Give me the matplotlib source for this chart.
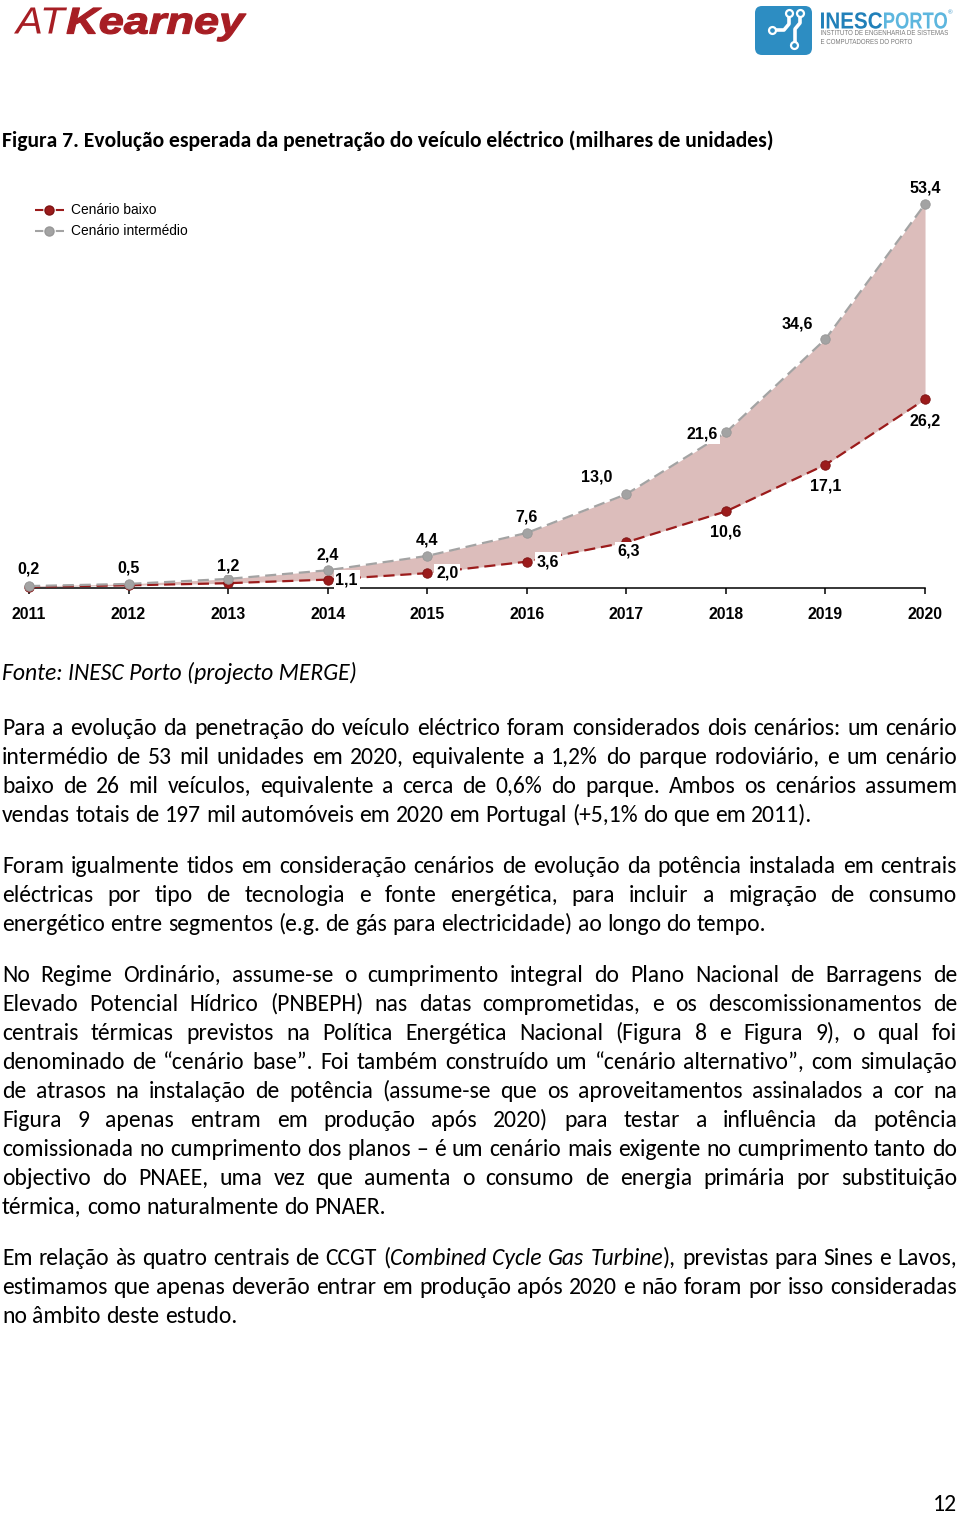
import matplotlib
matplotlib.use("Agg")
import matplotlib.pyplot as plt
from matplotlib.font_manager import FontProperties, fontManager
from matplotlib.lines import Line2D
from matplotlib.patches import FancyBboxPatch, PathPatch
from matplotlib.textpath import TextPath
from matplotlib.transforms import Affine2D

# ---------------- data ----------------
years = [2011, 2012, 2013, 2014, 2015, 2016, 2017, 2018, 2019, 2020]
cenario_baixo = [0.1, 0.3, 0.6, 1.1, 2.0, 3.6, 6.3, 10.6, 17.1, 26.2]
cenario_intermedio = [0.2, 0.5, 1.2, 2.4, 4.4, 7.6, 13.0, 21.6, 34.6, 53.4]
labels_baixo = [None, None, None, "1,1", "2,0", "3,6", "6,3", "10,6", "17,1", "26,2"]
labels_intermedio = ["0,2", "0,5", "1,2", "2,4", "4,4", "7,6", "13,0", "21,6", "34,6", "53,4"]
series_names = ["Cenário baixo", "Cenário intermédio"]

title_text = "Figura 7. Evolução esperada da penetração do veículo eléctrico (milhares de unidades)"
source_text = "Fonte: INESC Porto (projecto MERGE)"
paragraphs = [
    ["Para a evolução da penetração do veículo eléctrico foram considerados dois cenários: um cenário",
     "intermédio de 53 mil unidades em 2020, equivalente a 1,2% do parque rodoviário, e um cenário",
     "baixo de 26 mil veículos, equivalente a cerca de 0,6% do parque. Ambos os cenários assumem",
     "vendas totais de 197 mil automóveis em 2020 em Portugal (+5,1% do que em 2011)."],
    ["Foram igualmente tidos em consideração cenários de evolução da potência instalada em centrais",
     "eléctricas por tipo de tecnologia e fonte energética, para incluir a migração de consumo",
     "energético entre segmentos (e.g. de gás para electricidade) ao longo do tempo."],
    ["No Regime Ordinário, assume-se o cumprimento integral do Plano Nacional de Barragens de",
     "Elevado Potencial Hídrico (PNBEPH) nas datas comprometidas, e os descomissionamentos de",
     "centrais térmicas previstos na Política Energética Nacional (Figura 8 e Figura 9), o qual foi",
     "denominado de “cenário base”. Foi também construído um “cenário alternativo”, com simulação",
     "de atrasos na instalação de potência (assume-se que os aproveitamentos assinalados a cor na",
     "Figura 9 apenas entram em produção após 2020) para testar a influência da potência",
     "comissionada no cumprimento dos planos – é um cenário mais exigente no cumprimento tanto do",
     "objectivo do PNAEE, uma vez que aumenta o consumo de energia primária por substituição",
     "térmica, como naturalmente do PNAER."],
    ["Em relação às quatro centrais de CCGT (*Combined Cycle Gas Turbine*), previstas para Sines e Lavos,",
     "estimamos que apenas deverão entrar em produção após 2020 e não foram por isso consideradas",
     "no âmbito deste estudo."],
]
page_number = "12"

# ---------------- styles ----------------
W, H = 960, 1513
RED = "#9b1b1b"
RED_EDGE = "#7d1212"
GRAY = "#a3a3a3"
GRAY_EDGE = "#979797"
FILL = "#dcbdbb"
TXT = "#000000"

names = {f.name for f in fontManager.ttflist}
BODY_FONT = "Carlito" if "Carlito" in names else "Lato"

plt.rcParams["font.family"] = ["Liberation Sans", "DejaVu Sans"]

fig = plt.figure(figsize=(W / 100, H / 100), dpi=100)
renderer = fig.canvas.get_renderer()


def tw(s, prop):
    return renderer.get_text_width_height_descent(s, prop, ismath=False)[0]


def fit(s, family, target, weight="normal", style="normal"):
    p = FontProperties(family=family, size=10, weight=weight, style=style)
    return 10 * target / tw(s, p)


# ---------------- chart ----------------
px_per_year = 99.56
x0_px, y_base = 29, 587.5
px_per_unit = 7.18
ax_top, ax_bot = 180, 600
ax = fig.add_axes([0, 1 - ax_bot / H, 1, (ax_bot - ax_top) / H])
ax.set_xlim(years[0] - x0_px / px_per_year, years[0] + (W - x0_px) / px_per_year)
ax.set_ylim(-(ax_bot - y_base) / px_per_unit, (y_base - ax_top) / px_per_unit)
ax.patch.set_alpha(0)

ax.fill_between(years, cenario_baixo, cenario_intermedio, color=FILL, lw=0, zorder=1)
ax.plot(years, cenario_baixo, color=RED, lw=1.6, dashes=(5, 2.6), marker="o",
        ms=6.8, mfc=RED, mec=RED_EDGE, mew=0.6, zorder=3, clip_on=False)
ax.plot(years, cenario_intermedio, color=GRAY, lw=1.6, dashes=(5, 2.6), marker="o",
        ms=6.8, mfc=GRAY, mec=GRAY_EDGE, mew=0.6, zorder=4, clip_on=False)

off_int = [(0, -17), (0, -16), (0, -13), (0, -15), (0, -16), (0, -16), (-30, -17), (-24, 2), (-28, -15), (0, -16)]
off_low = [None, None, None, (19, 0), (20, 0), (21, 0), (2, 9), (0, 21), (0, 21), (0, 22)]
lab_kw = dict(textcoords="offset points", ha="center", va="center", fontsize=11.5,
              fontweight="bold", color="#000000", zorder=6,
              bbox=dict(boxstyle="square,pad=0.12", fc="white", ec="none"))
for x, y, l, o in zip(years, cenario_intermedio, labels_intermedio, off_int):
    ax.annotate(l, (x, y), xytext=(o[0] * 0.72, -o[1] * 0.72), **lab_kw)
for x, y, l, o in zip(years, cenario_baixo, labels_baixo, off_low):
    if l is not None:
        ax.annotate(l, (x, y), xytext=(o[0] * 0.72, -o[1] * 0.72), **lab_kw)

for s in ["top", "right", "left"]:
    ax.spines[s].set_visible(False)
ax.spines["bottom"].set_position(("data", 0))
ax.spines["bottom"].set_bounds(years[0], years[-1])
ax.spines["bottom"].set_linewidth(1.1)
ax.spines["bottom"].set_zorder(2)
ax.set_yticks([])
ax.set_xticks(years)
ax.set_xticklabels([str(y) for y in years])
ax.tick_params(axis="x", length=4, width=1.1, direction="out", pad=10, labelsize=11.3)
for t in ax.get_xticklabels():
    t.set_fontweight("bold")

handles = [
    Line2D([], [], color=RED, lw=1.5, dashes=(4, 6), marker="o", ms=6.5, mfc=RED, mec=RED_EDGE),
    Line2D([], [], color=GRAY, lw=1.5, dashes=(4, 6), marker="o", ms=6.5, mfc=GRAY, mec=GRAY_EDGE),
]
fig.legend(handles, series_names, loc="upper left", bbox_to_anchor=(35 / W, 1 - 203.5 / H),
           bbox_transform=fig.transFigure, frameon=False, fontsize=9.9, handlelength=2.1,
           handletextpad=0.5, labelspacing=0.5, borderpad=0, borderaxespad=0, numpoints=1)

# ---------------- page overlay ----------------
tax = fig.add_axes([0, 0, 1, 1], zorder=-1)
tax.set_xlim(0, W)
tax.set_ylim(H, 0)
tax.axis("off")


def path_text(s, x_left, x_right, base, cap_px, prop, color, stroke=0.0):
    tp = TextPath((0, 0), s, size=100, prop=prop)
    cap = TextPath((0, 0), "H", size=100, prop=prop).get_extents().height
    ext = tp.get_extents()
    sy = cap_px / cap
    sx = (x_right - x_left) / ext.width
    tr = Affine2D().translate(-ext.x0, 0).scale(sx, -sy).translate(x_left, base)
    tax.add_patch(PathPatch(tr.transform_path(tp), fc=color,
                            ec=color if stroke else "none", lw=stroke, joinstyle="round"))


# AT Kearney logo
KRED = "#a71e24"
path_text("AT", 14, 67, 33.5, 26, FontProperties(family="Liberation Sans", style="italic"), KRED)
path_text("Kearney", 67, 246, 33.5, 25.5,
          FontProperties(family="Liberation Sans", style="italic", weight="bold"), KRED, stroke=0.9)

# INESC Porto logo
BLUE = "#2d8dc2"
DBLUE = "#2180b9"
LBLUE = "#5db6de"
tax.add_patch(FancyBboxPatch((755, 6), 57, 49, boxstyle="round,pad=0,rounding_size=7",
                             fc=BLUE, ec="none"))
wl = dict(color="white", lw=2.6, solid_capstyle="round", solid_joinstyle="round")
tax.plot([774, 784, 789, 789], [30, 30, 24, 15], **wl)
tax.plot([800, 800, 795, 795], [15, 23, 29, 42], **wl)
for cx, cy in [(771.5, 30), (789, 13), (800, 13), (794, 45)]:
    tax.plot(cx, cy, "o", ms=5, mfc=BLUE, mec="white", mew=1.6)
bold_sans = FontProperties(family="Liberation Sans", weight="bold")
path_text("INESC", 821, 882, 28.5, 16, bold_sans, DBLUE)
path_text("PORTO", 884, 947, 28.5, 16, bold_sans, LBLUE)
tax.text(948, 13, "®", fontsize=4.5, color=BLUE, va="center", ha="left")
small = FontProperties(family="Liberation Sans")
path_text("INSTITUTO DE ENGENHARIA DE SISTEMAS", 821, 948, 35, 5, small, "#7a7a7a")
path_text("E COMPUTADORES DO PORTO", 821, 912, 44, 5, small, "#7a7a7a")

# Title
ts = fit(title_text, BODY_FONT, 774, weight="bold")
tax.text(2, 147, title_text, family=BODY_FONT, size=ts, weight="bold", color=TXT,
         va="baseline", ha="left")

# body font size
p10 = FontProperties(family=BODY_FONT, size=10)
bs = 10 * 813 / tw(paragraphs[0][-1], p10)
for par in paragraphs:
    for line in par[:-1]:
        clean = line.replace("*", "")
        nat = tw(clean, p10)
        bs = min(bs, 10 * 952 / nat)

tax.text(2, 680, source_text, family=BODY_FONT, size=bs, style="italic", color=TXT,
         va="baseline", ha="left")


def draw_line(line, y, justify):
    words = line.split(" ")
    italic = False
    wsegs = []
    for w in words:
        segs = []
        cur = ""
        for ch in w:
            if ch == "*":
                if cur:
                    segs.append((cur, italic))
                cur = ""
                italic = not italic
            else:
                cur += ch
        if cur:
            segs.append((cur, italic))
        wsegs.append(segs)
    props = {False: FontProperties(family=BODY_FONT, size=bs),
             True: FontProperties(family=BODY_FONT, size=bs, style="italic")}
    widths = [sum(tw(s, props[it]) for s, it in segs) for segs in wsegs]
    space = tw("a a", props[False]) - tw("aa", props[False])
    if justify and len(words) > 1:
        gap = (957 - 2 - sum(widths)) / (len(words) - 1)
    else:
        gap = space
    x = 2
    for segs, wdt in zip(wsegs, widths):
        xx = x
        for s, it in segs:
            tax.text(xx, y, s, fontproperties=props[it], color=TXT, va="baseline", ha="left")
            xx += tw(s, props[it])
        x += wdt + gap


par_starts = [735, 873, 982, 1265]
for par, y0 in zip(paragraphs, par_starts):
    for i, line in enumerate(par):
        draw_line(line, y0 + 29 * i, justify=(i < len(par) - 1))

tax.text(957, 1511, page_number, family=BODY_FONT, size=bs, color=TXT, va="baseline", ha="right")

fig.savefig("out.png", dpi=100)
